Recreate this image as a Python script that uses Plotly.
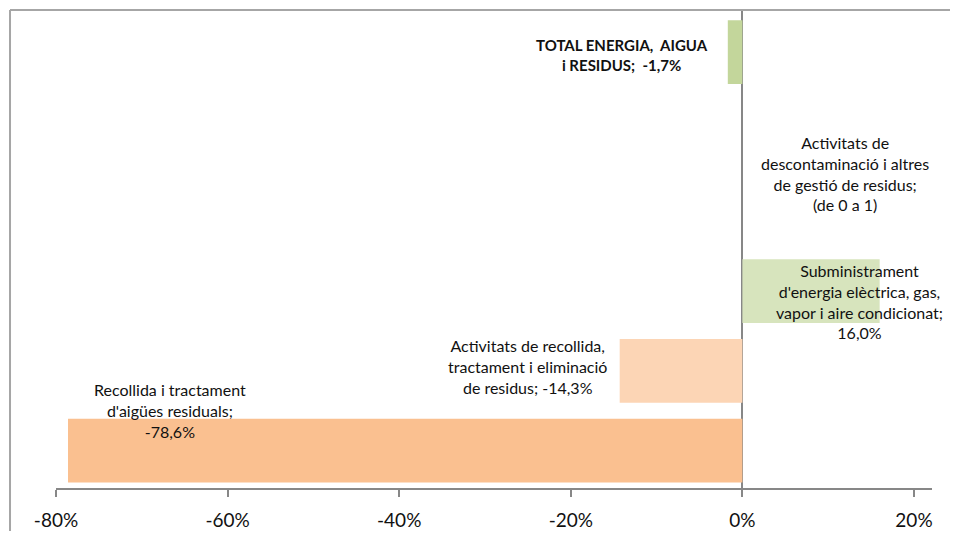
import plotly.graph_objects as go

# categories from top to bottom (one empty slot in the original chart)
categories = [
    "TOTAL ENERGIA,  AIGUA i RESIDUS",
    "Activitats de descontaminació i altres de gestió de residus",
    "",
    "Subministrament d'energia elèctrica, gas, vapor i aire condicionat",
    "Activitats de recollida, tractament i eliminació de residus",
    "Recollida i tractament d'aigües residuals",
]
valors = [-1.7, 0.0, None, 16.0, -14.3, -78.6]
etiquetes_valor = ["-1,7%", "(de 0 a 1)", "", "16,0%", "-14,3%", "-78,6%"]
linies_etiqueta = [
    ["TOTAL ENERGIA,  AIGUA", "i RESIDUS;  -1,7%"],
    ["Activitats de", "descontaminació i altres", "de gestió de residus;", "(de 0 a 1)"],
    [],
    ["Subministrament", "d'energia elèctrica, gas,", "vapor i aire condicionat;", "16,0%"],
    ["Activitats de recollida,", "tractament i eliminació", "de residus; -14,3%"],
    ["Recollida i tractament", "d'aigües residuals;", "-78,6%"],
]
tick_vals = [-80, -60, -40, -20, 0, 20]
tick_text = ["-80%", "-60%", "-40%", "-20%", "0%", "20%"]

COLORS = ["#c3d69b", "#c3d69b", "#ffffff", "#d7e4bd", "#fcd5b5", "#fac090"]
GRIS = "#878787"
FONT = "Lato"

idx = list(range(len(categories)))

fig = go.Figure(
    go.Bar(
        x=valors,
        y=idx,
        orientation="h",
        width=0.8,
        marker=dict(color=COLORS, line=dict(width=0)),
        hovertext=categories,
        showlegend=False,
    )
)

# label placement (data coordinates), tuned by eye
pos_etiqueta = {0: (-14.0, 0.03), 1: (12.0, 1.52), 3: (13.6, 3.13), 4: (-25.1, 3.95), 5: (-66.7, 4.50)}
for i, (lx, ly) in pos_etiqueta.items():
    txt = "<br>".join(linies_etiqueta[i])
    mida = 16
    if i == 0:
        txt = "<b>" + txt + "</b>"
        mida = 15
    fig.add_annotation(
        x=lx, y=ly, xref="x", yref="y", text=txt, showarrow=False,
        xanchor="center", yanchor="middle", align="center",
        font=dict(family=FONT, size=mida, color="#111111"),
    )

# outer chart border (left and top)
fig.add_shape(type="line", xref="paper", yref="paper", x0=-0.0525, x1=1.04, y0=1.0, y1=1.0,
              line=dict(color="#a6a6a6", width=2))
fig.add_shape(type="line", xref="paper", yref="paper", x0=-0.0525, x1=-0.0525, y0=1.0, y1=-0.09,
              line=dict(color="#a6a6a6", width=2))

fig.update_xaxes(
    range=[-80, 22.1],
    tickvals=tick_vals,
    ticktext=tick_text,
    ticks="outside",
    ticklen=7,
    tickwidth=2,
    tickcolor=GRIS,
    ticklabelstandoff=7,
    showline=True,
    linecolor=GRIS,
    linewidth=2,
    showgrid=False,
    zeroline=True,
    zerolinecolor=GRIS,
    zerolinewidth=2,
    layer="above traces",
    tickfont=dict(family=FONT, size=19, color="#111111"),
    fixedrange=True,
)
fig.update_yaxes(
    range=[5.47, -0.53],
    showticklabels=False,
    showgrid=False,
    zeroline=False,
    showline=False,
    fixedrange=True,
)

# page body adds 8px, so the figure is 8px smaller than the window
fig.update_layout(
    width=950,
    height=525,
    margin=dict(l=48, r=26, t=2, b=40),
    paper_bgcolor="white",
    plot_bgcolor="white",
    bargap=0.2,
    font=dict(family=FONT, size=16, color="#111111"),
)

fig.write_html("out.html")
